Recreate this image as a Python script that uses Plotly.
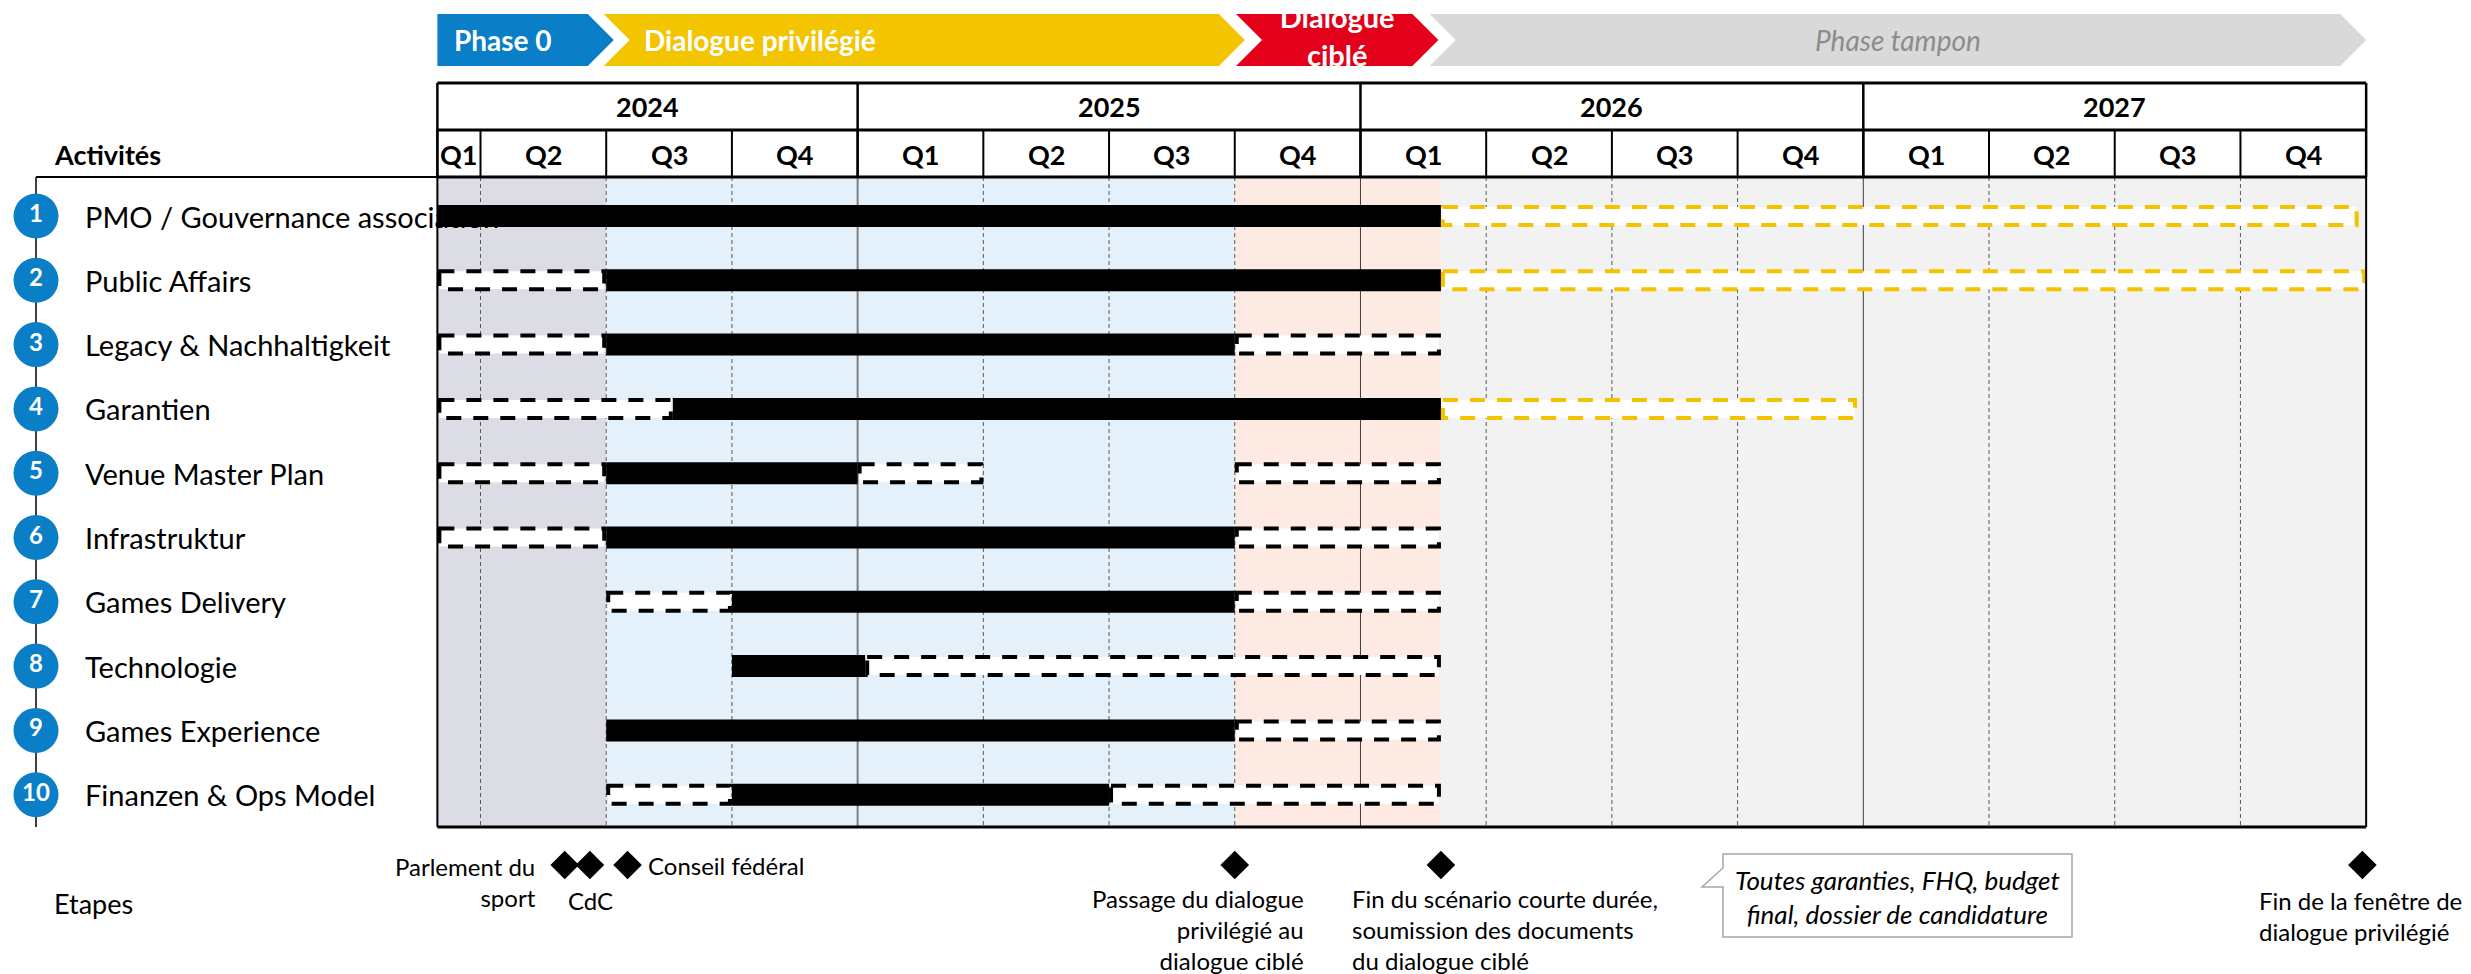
import plotly.graph_objects as go

# ---------------- data ----------------
years = ["2024", "2025", "2026", "2027"]
year_start = [0.657, 4, 8, 12]
year_end = [4, 8, 12, 16]

quarter_labels = ["Q1", "Q2", "Q3", "Q4"] * 4
quarter_start = [0.657, 1, 2, 3, 4, 5, 6, 7, 8, 9, 10, 11, 12, 13, 14, 15]
quarter_end = [1, 2, 3, 4, 5, 6, 7, 8, 9, 10, 11, 12, 13, 14, 15, 16]

activities = [
    "PMO / Gouvernance association",
    "Public Affairs",
    "Legacy & Nachhaltigkeit",
    "Garantien",
    "Venue Master Plan",
    "Infrastruktur",
    "Games Delivery",
    "Technologie",
    "Games Experience",
    "Finanzen & Ops Model",
]
activity_num = [str(i) for i in range(1, 11)]

# bar segments (row, start quarter, end quarter, style)
seg_row = [1, 1,
           2, 2, 2,
           3, 3, 3,
           4, 4, 4,
           5, 5, 5, 5,
           6, 6, 6,
           7, 7, 7,
           8, 8,
           9, 9,
           10, 10, 10]
seg_start = [0.657, 8.64,
             0.657, 2, 8.64,
             0.657, 2, 7,
             0.657, 2.53, 8.64,
             0.657, 2, 4, 7,
             0.657, 2, 7,
             2, 3, 7,
             3, 4.06,
             2, 7,
             2, 3, 6]
seg_end = [8.64, 15.94,
           2, 8.64, 16,
           2, 7, 8.64,
           2.53, 8.64, 11.95,
           2, 4, 5, 8.64,
           2, 7, 8.64,
           3, 7, 8.64,
           4.06, 8.64,
           7, 8.64,
           3, 6, 8.64]
seg_style = ["solid", "ydash",
             "dash", "solid", "ydash",
             "dash", "solid", "dash",
             "dash", "solid", "ydash",
             "dash", "solid", "dash", "dash",
             "dash", "solid", "dash",
             "dash", "solid", "dash",
             "solid", "dash",
             "solid", "dash",
             "dash", "solid", "dash"]

phase_names = ["<b>Phase 0</b>", "<b>Dialogue privilégié</b>", "<b>Dialogue<br>ciblé</b>", "<i>Phase tampon</i>"]
phase_start = [0.657, 1.98, 7.01, 8.55]
phase_end = [2.06, 7.08, 8.62, 16.0]

band_start = [0.657, 2, 7, 8.64]
band_end = [2, 7, 8.64, 16]

milestone_x = [1.67, 1.87, 2.17, 7.0, 8.64, 15.97]
milestone_labels = [
    "Parlement du<br>sport",
    "CdC",
    "Conseil fédéral",
    "Passage du dialogue<br>privilégié au<br>dialogue ciblé",
    "Fin du scénario courte durée,<br>soumission des documents<br>du dialogue ciblé",
    "Fin de la fenêtre de<br>dialogue privilégié",
]
callout_text = "<i>Toutes garanties, FHQ, budget<br>final, dossier de candidature</i>"

# ---------------- styles / layout helpers ----------------
W, H = 2471, 974
X0PX, QPX = 480.5, 125.71      # pixel of quarter 1, pixels per quarter
ROW1PX, RPX = 216.0, 64.3      # pixel of row 1 centre, pixels per row


def xq(px):
    return 1 + (px - X0PX) / QPX


def yr(px):
    return 1 + (px - ROW1PX) / RPX


FONT = "Lato"
BLUE = "#0A7EC6"
YELLOW = "#F2C500"
RED = "#E3001B"
GREY = "#D9D9D9"
phase_fill = [BLUE, YELLOW, RED, GREY]
phase_notch = [False, True, True, True]
band_colors = ["#DCDCE5", "#E4F1FA", "#FDEAE3", "#F2F2F2"]
YDASH = "#F4C300"

LEFT, RIGHT = year_start[0], year_end[-1]
TAB_TOP, TAB_MID, TAB_BOT, BODY_BOT = 83, 130, 177, 827

shapes = []
annotations = []


def line(x0, y0, x1, y1, color="black", width=2, dash="solid", layer="below"):
    shapes.append(dict(type="line", xref="x", yref="y", x0=x0, y0=y0, x1=x1, y1=y1,
                       line=dict(color=color, width=width, dash=dash), layer=layer))


# background bands
for s, e, c in zip(band_start, band_end, band_colors):
    shapes.append(dict(type="rect", xref="x", yref="y", x0=s, x1=e,
                       y0=yr(TAB_BOT), y1=yr(BODY_BOT), fillcolor=c,
                       line=dict(width=0), layer="below"))

# body vertical grid lines
for q in range(1, 16):
    if q == 4:
        line(q, yr(TAB_BOT), q, yr(BODY_BOT), color="#7F7F7F", width=2)
    elif q in (8, 12):
        line(q, yr(TAB_BOT), q, yr(BODY_BOT), color="#3F3F3F", width=1)
    else:
        line(q, yr(TAB_BOT), q, yr(BODY_BOT), color="#595959", width=1, dash="4px,3px")

# bars
HALF = 11 / RPX
HALF_D = 9 / RPX
for r, s, e, st in zip(seg_row, seg_start, seg_end, seg_style):
    if st == "solid":
        shapes.append(dict(type="rect", xref="x", yref="y", x0=s, x1=e,
                           y0=r - HALF, y1=r + HALF, fillcolor="black",
                           line=dict(width=0), layer="below"))
    else:
        col = "black" if st == "dash" else YDASH
        shapes.append(dict(type="rect", xref="x", yref="y", x0=s + 2 / QPX, x1=e - 2 / QPX,
                           y0=r - HALF_D, y1=r + HALF_D, fillcolor="white",
                           line=dict(width=4, color=col, dash="15px,12px"), layer="below"))

# body frame
line(LEFT, yr(TAB_BOT), LEFT, yr(BODY_BOT), width=2)
line(RIGHT, yr(TAB_BOT), RIGHT, yr(BODY_BOT), width=2)
line(LEFT, yr(BODY_BOT), RIGHT, yr(BODY_BOT), width=3)

# header table
for yy in (TAB_TOP, TAB_MID, TAB_BOT):
    line(LEFT, yr(yy), RIGHT, yr(yy), width=3)
for x in year_start + [RIGHT]:
    line(x, yr(TAB_TOP), x, yr(TAB_BOT), width=2.5)
for x in quarter_start:
    line(x, yr(TAB_MID), x, yr(TAB_BOT), width=2)

for lab, s, e in zip(years, year_start, year_end):
    annotations.append(dict(x=(s + e) / 2, y=yr((TAB_TOP + TAB_MID) / 2), text=f"<b>{lab}</b>",
                            showarrow=False, font=dict(family=FONT, size=27, color="black")))
for lab, s, e in zip(quarter_labels, quarter_start, quarter_end):
    annotations.append(dict(x=(s + e) / 2, y=yr((TAB_MID + TAB_BOT) / 2 + 1), text=f"<b>{lab}</b>",
                            showarrow=False, font=dict(family=FONT, size=27, color="black")))

# left activity list
annotations.append(dict(x=xq(52), y=yr(154), text="<b>Activités</b>", xanchor="left",
                        showarrow=False, font=dict(family=FONT, size=27, color="black")))
line(xq(36), yr(TAB_BOT), LEFT, yr(TAB_BOT), width=2)
line(xq(36), yr(TAB_BOT), xq(36), yr(BODY_BOT), width=1.5)
rows = list(range(1, len(activities) + 1))
for r, name in zip(rows, activities):
    annotations.append(dict(x=xq(83), y=r, text=name, xanchor="left", showarrow=False,
                            font=dict(family=FONT, size=29, color="black")))

# phase chevrons
PT, PB = yr(14), yr(66)
PM = (PT + PB) / 2
DEPTH = 26 / QPX
for name, s, e, c, notch in zip(phase_names, phase_start, phase_end, phase_fill, phase_notch):
    left_mid = s + DEPTH if notch else s
    path = (f"M {s},{PT} L {e - DEPTH},{PT} L {e},{PM} L {e - DEPTH},{PB} "
            f"L {s},{PB} L {left_mid},{PM} Z")
    shapes.append(dict(type="path", xref="x", yref="y", path=path, fillcolor=c,
                       line=dict(width=0), layer="below"))

annotations.append(dict(x=phase_start[0] + 0.12, y=PM, text=phase_names[0], xanchor="left",
                        showarrow=False, font=dict(family=FONT, size=28, color="white")))
annotations.append(dict(x=phase_start[1] + DEPTH + 0.1, y=PM, text=phase_names[1], xanchor="left",
                        showarrow=False, font=dict(family=FONT, size=28, color="white")))
annotations.append(dict(x=(phase_start[3] + DEPTH + phase_end[3] - DEPTH) / 2, y=PM,
                        text=phase_names[3], showarrow=False,
                        font=dict(family=FONT, size=28, color="#8C8C8C")))

# milestone diamonds
traces = []
traces.append(go.Scatter(x=milestone_x, y=[yr(865)] * len(milestone_x), mode="markers",
                         marker=dict(symbol="diamond", size=22, color="black"),
                         hoverinfo="skip"))

annotations.append(dict(x=xq(52), y=yr(903), text="Etapes", xanchor="left", showarrow=False,
                        font=dict(family=FONT, size=27, color="black")))

ms_pos = [  # (x px, y px, xanchor, align)
    (538, 882, "right", "right"),
    (590, 900, "center", "center"),
    (646, 865, "left", "left"),
    (1306, 929, "right", "right"),
    (1350, 929, "left", "left"),
    (2257, 916, "left", "left"),
]
for lab, (px, py, xa, al) in zip(milestone_labels, ms_pos):
    annotations.append(dict(x=xq(px), y=yr(py), text=lab, xanchor=xa, align=al, showarrow=False,
                            font=dict(family=FONT, size=24, color="black")))

# callout
bx0, bx1, by0, by1 = xq(1723), xq(2072), yr(854), yr(937)
path = (f"M {bx0},{by0} L {bx1},{by0} L {bx1},{by1} L {bx0},{by1} L {bx0},{yr(887)} "
        f"L {xq(1702)},{yr(887)} L {bx0},{yr(868)} Z")
shapes.append(dict(type="path", xref="x", yref="y", path=path, fillcolor="white",
                   line=dict(width=1.5, color="#A6A6A6"), layer="below"))
annotations.append(dict(x=(bx0 + bx1) / 2, y=yr(897), text=callout_text, showarrow=False,
                        font=dict(family=FONT, size=26, color="black")))

# circles with numbers
traces.append(go.Scatter(x=[xq(36)] * len(rows), y=rows, mode="markers+text",
                         marker=dict(symbol="circle", size=45, color=BLUE),
                         text=[f"<b>{n}</b>" for n in activity_num], textposition="middle center",
                         textfont=dict(family=FONT, size=24, color="white"), hoverinfo="skip"))

# red chevron two-line text (clipped by masks, like the reference)
traces.append(go.Scatter(x=[(phase_start[2] + DEPTH + phase_end[2] - DEPTH) / 2], y=[PM],
                         mode="text", text=[phase_names[2]], textposition="middle center",
                         textfont=dict(family=FONT, size=29, color="white"), hoverinfo="skip"))
for y0, y1 in ((yr(-20), PT), (PB, yr(81))):
    shapes.append(dict(type="rect", xref="x", yref="y", x0=phase_start[2] + 0.25, x1=phase_end[2] - 0.3,
                       y0=y0, y1=y1, fillcolor="white", line=dict(width=0), layer="above"))

fig = go.Figure(traces)
fig.update_layout(
    width=W, height=H, margin=dict(l=0, r=0, t=0, b=0),
    paper_bgcolor="white", plot_bgcolor="white", showlegend=False,
    xaxis=dict(range=[xq(0), xq(W)], visible=False, fixedrange=True),
    yaxis=dict(range=[yr(H), yr(0)], visible=False, fixedrange=True),
    shapes=shapes, annotations=annotations,
)
fig.write_html("out.html", config={"displayModeBar": False},
               post_script="document.body.style.margin='0';document.body.style.overflow='hidden';")
